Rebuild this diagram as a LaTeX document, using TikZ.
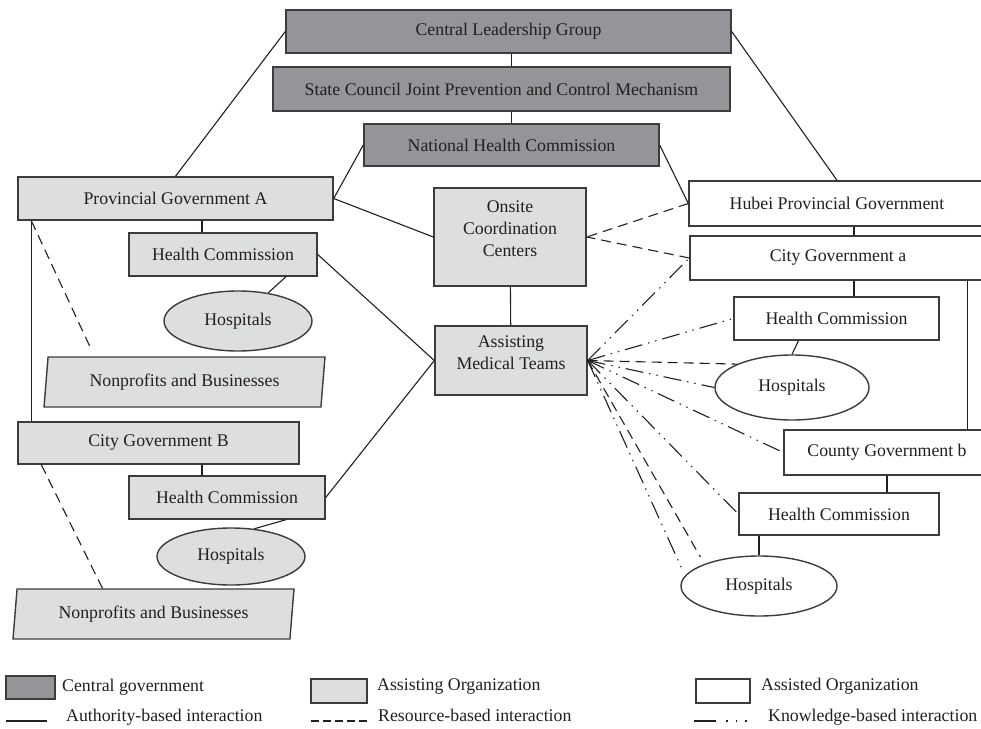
\documentclass[tikz,border=0pt]{standalone}
\usepackage{fontspec}
\setmainfont{Liberation Serif}
\usepackage{tikz}
\usetikzlibrary{shapes.geometric, arrows.meta, positioning, calc}

\definecolor{centralgray}{RGB}{147,149,152}
\definecolor{assistgray}{RGB}{221,222,223}
\definecolor{edgegray}{RGB}{60,60,62}
\definecolor{inkgray}{RGB}{35,31,32}

\begin{document}
\begin{tikzpicture}[
  x=1pt, y=-1pt,
  font=\fontsize{17.8}{22}\selectfont, text=inkgray,
  org/.style={rectangle, draw=edgegray, line width=1.4pt, inner sep=0pt, align=center},
  central/.style={org, fill=centralgray},
  assisting/.style={org, fill=assistgray},
  assisted/.style={org, fill=white},
  hosp/.style={ellipse, draw=edgegray, line width=1.4pt, inner sep=0pt},
  npo/.style={trapezium, trapezium left angle=76, trapezium right angle=104,
              trapezium stretches body, draw=edgegray, line width=1.4pt,
              fill=assistgray, inner sep=0pt, minimum height=50pt, minimum width=281pt},
  legtxt/.style={anchor=base west, inner sep=0pt},
  authority/.style={draw=inkgray, line width=1.1pt},
  resource/.style={authority, dash pattern=on 10pt off 6pt},
  knowledge/.style={authority, dash pattern=on 18pt off 6pt on 1.4pt off 6pt on 1.4pt off 6pt}
]
\useasboundingbox (0,0) rectangle (981,728);

\node[central, minimum width=445pt, minimum height=43pt] (clg) at (508.5,31.5) {Central Leadership Group};
\node[central, minimum width=457pt, minimum height=44pt] (scm) at (501.5,89) {State Council Joint Prevention and Control Mechanism};
\node[central, minimum width=295pt, minimum height=42pt] (nhc) at (511.5,145) {National Health Commission};

\node[assisting, minimum width=315pt, minimum height=43pt] (provA) at (175.5,198.5) {Provincial Government A};
\node[assisting, minimum width=188pt, minimum height=43pt] (hcA) at (223,254.5) {Health Commission};
\node[hosp, fill=assistgray, minimum width=148pt, minimum height=60pt] (hospA) at (238,321) {Hospitals};
\node[npo] (npA) at (184.5,382) {Nonprofits and Businesses};
\node[assisting, minimum width=281pt, minimum height=42pt] (cityB) at (158.5,443) {City Government B};
\node[assisting, minimum width=196pt, minimum height=43pt] (hcB) at (227,497.5) {Health Commission};
\node[hosp, fill=assistgray, minimum width=148pt, minimum height=57pt] (hospB) at (231,556.5) {Hospitals};
\node[npo] (npB) at (153.5,614) {Nonprofits and Businesses};

\node[assisting, minimum width=152pt, minimum height=98pt, text depth=16pt] (onsite) at (510,237) {Onsite\\Coordination\\Centers};
\node[assisting, minimum width=152pt, minimum height=69pt, text depth=15pt] (amt) at (511,360.5) {Assisting\\Medical Teams};

\node[assisted, minimum width=296pt, minimum height=45pt] (hubei) at (837,203.5) {Hubei Provincial Government};
\node[assisted, minimum width=296pt, minimum height=44pt] (cityA) at (838,258) {City Government a};
\node[assisted, minimum width=205pt, minimum height=43pt] (hcR1) at (836.5,318.5) {Health Commission};
\node[hosp, fill=white, minimum width=154pt, minimum height=65pt] (hospR1) at (792,387.5) {Hospitals};
\node[assisted, minimum width=206pt, minimum height=45pt] (countyB) at (887,452.5) {County Government b};
\node[assisted, minimum width=200pt, minimum height=42pt] (hcR2) at (839,514) {Health Commission};
\node[hosp, fill=white, minimum width=156pt, minimum height=60pt] (hospR2) at (759,586) {Hospitals};

\draw[authority] (nhc.north |- clg.south) -- (nhc.north |- scm.north);
\draw[authority] (nhc.north |- scm.south) -- (nhc.north);
\draw[authority] (clg.west) -- (provA.north);
\draw[authority] (clg.east) -- (hubei.north);
\draw[authority] (nhc.west) -- (provA.east);
\draw[authority] (nhc.east) -- (hubei.west);
\draw[authority] (provA.east) -- (onsite.west);
\draw[authority] (onsite) -- (amt);
\draw[authority] (hcA.east) -- (amt.west);
\draw[authority] (hcB.east) -- (amt.west);

\coordinate (pa) at ($(hcA.north)+(-21,0)$);
\coordinate (pb) at ($(provA.south west)+(14,0)$);
\coordinate (cb) at ($(hcB.north)+(-25,0)$);
\coordinate (cn) at ($(cityB.south west)+(24,0)$);
\draw[authority] (pa) -- (pa |- provA.south);
\draw[authority] (pb) -- (pb |- cityB.north);
\draw[authority] (cb) -- (cb |- cityB.south);
\draw[authority] ($(hcA.south)+(63,0)$) -- (hospA.43);
\draw[authority] ($(hcB.south)+(59,0)$) -- (hospB.50);
\draw[resource, shorten >=7pt] (pb) -- ($(npA.top left corner)+(47,0)$);
\draw[resource] (cn) -- ($(npB.top left corner)+(86,0)$);

\coordinate (hb) at ($(hubei.south)+(17,0)$);
\coordinate (ca) at ($(cityA.south east)+(-19,0)$);
\draw[authority] (hb) -- (hb |- cityA.north);
\draw[authority] (hb |- cityA.south) -- (hb |- hcR1.north);
\draw[authority] (ca) -- (ca |- countyB.north);
\draw[authority] ($(hcR1.south)+(-38,0)$) -- (hospR1.north);
\draw[authority] (countyB.south) -- (countyB.south |- hcR2.north);
\draw[authority] (hospR2.north) -- (hospR2.north |- hcR2.south);

\draw[resource] (hubei.west) -- (onsite.east);
\draw[resource] (cityA.west) -- (onsite.east);
\draw[resource] (amt.east) -- (hospR1.157);
\draw[resource, shorten >=8pt] (amt.east) -- (hospR2.158);
\foreach \t in {cityA.west, hcR1.west, hospR1.west, countyB.west, hcR2.west}
  \draw[knowledge] (amt.east) -- (\t);
\draw[knowledge, shorten >=6pt] (amt.east) -- (hospR2.172);

\node[central, minimum width=49pt, minimum height=23pt] (legCentral) at (30.5,687.5) {};
\node[legtxt] (txtCentral) at (62,691) {Central government};
\node[assisting, minimum width=56pt, minimum height=24pt] (legAssisting) at (339,691) {};
\node[legtxt] (txtAssisting) at (377,690) {Assisting Organization};
\node[assisted, minimum width=54pt, minimum height=24pt] (legAssisted) at (723,691) {};
\node[legtxt] (txtAssisted) at (761,690) {Assisted Organization};

\coordinate (au1) at (6,721);
\coordinate (au2) at (47,721);
\coordinate (re1) at (311,721);
\coordinate (re2) at (369,721);
\coordinate (kn1) at (694,721);
\coordinate (kn2) at (750,721);
\draw[authority] (au1) -- (au2);
\draw[resource, dash pattern=on 8pt off 4pt] (re1) -- (re2);
\draw[authority, dash pattern=on 22pt off 10pt on 1.5pt off 8pt on 1.5pt off 8pt on 1.5pt off 20pt] (kn1) -- (kn2);
\node[legtxt] (txtAuthority) at (66,721) {Authority-based interaction};
\node[legtxt] (txtResource) at (378,721) {Resource-based interaction};
\node[legtxt] (txtKnowledge) at (768,721) {Knowledge-based interaction};
\end{tikzpicture}
\end{document}
